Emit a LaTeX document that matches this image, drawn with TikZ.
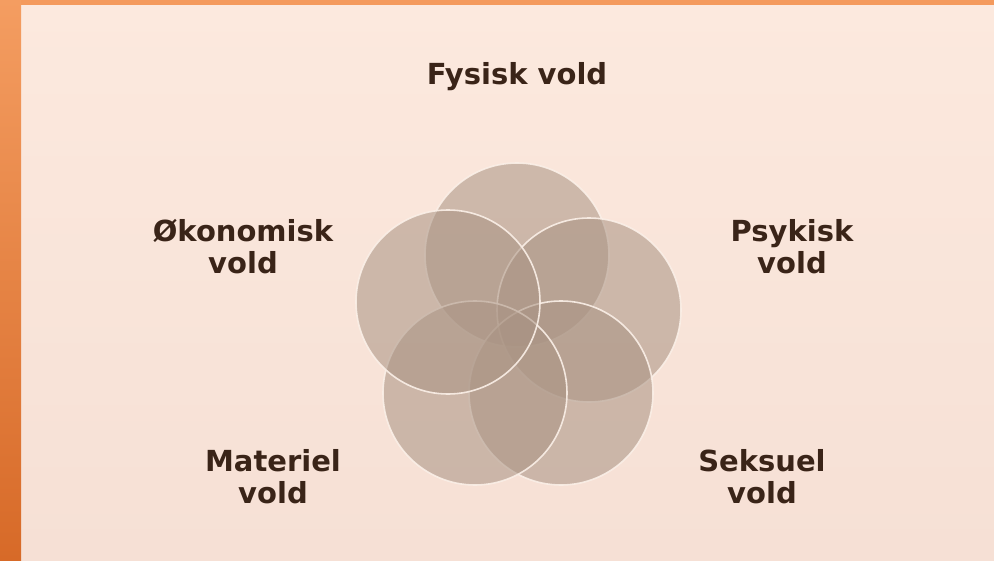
\documentclass[tikz,border=0pt]{standalone}
\usepackage{fontspec}
\setmainfont{DejaVu Sans}
\begin{document}
\begin{tikzpicture}[x=1pt,y=-1pt,
  lbl/.style={font=\bfseries\fontsize{29}{32}\selectfont, text=txtc, align=center, inner sep=0pt},
  venn/.style={circle, minimum size=184pt, inner sep=0pt, fill=circc, fill opacity=0.56, draw=ringc, draw opacity=0.9, line width=1.6pt}]
\definecolor{txtc}{HTML}{3A2418}
\definecolor{circc}{HTML}{AA9484}
\definecolor{ringc}{HTML}{FBF0E8}
\definecolor{bgtop}{HTML}{FCE9DE}
\definecolor{bgbot}{HTML}{F6E0D5}
\definecolor{ortop}{HTML}{F49D61}
\definecolor{ormid}{HTML}{EF8640}
\definecolor{orbot}{HTML}{D76A28}
\definecolor{orstrip}{HTML}{F49A5D}
\useasboundingbox (0,0) rectangle (994,560);
\shade[top color=bgtop, bottom color=bgbot] (0,0) rectangle (994,560);
\fill[orstrip] (0,0) rectangle (994,5);
\shade[top color=ortop, middle color=ormid, bottom color=orbot] (0,0) rectangle (21,560);
% circles
\node[venn] (c1) at (517,255) {};
\node[venn] (c2) at (589,310) {};
\node[venn] (c3) at (561,393) {};
\node[venn] (c4) at (475,393) {};
\node[venn] (c5) at (448,302) {};
% labels
\node[lbl] (l1) at (517,77) {Fysisk vold};
\node[lbl] (l2) at (792,247) {Psykisk\\vold};
\node[lbl] (l3) at (762,477) {Seksuel\\vold};
\node[lbl] (l4) at (273,477) {Materiel\\vold};
\node[lbl] (l5) at (243,247) {Økonomisk\\vold};
\end{tikzpicture}
\end{document}
